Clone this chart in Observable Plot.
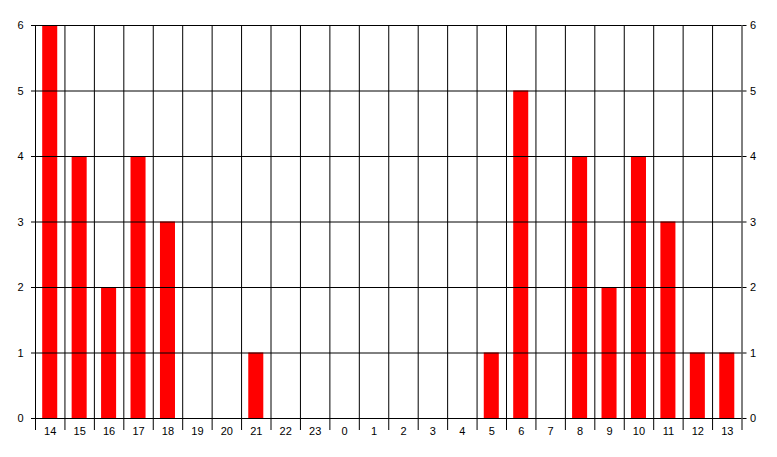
<!DOCTYPE html>
<html>
<head>
<meta charset="utf-8">
<script src="https://cdn.jsdelivr.net/npm/d3@7"></script>
<script src="https://cdn.jsdelivr.net/npm/@observablehq/plot@0.6"></script>
<style>
  html, body { margin: 0; padding: 0; background: #fff; }
  svg { font-family: "Liberation Sans", Arial, sans-serif; }
</style>
</head>
<body>
<div id="chart"></div>
<script>
const hours = ["14","15","16","17","18","19","20","21","22","23","0","1","2","3","4","5","6","7","8","9","10","11","12","13"];
const counts = [6,4,2,4,3,0,0,1,0,0,0,0,0,0,0,1,5,0,4,2,4,3,1,1];
const yTicks = [0,1,2,3,4,5,6];

const data = hours.map((h, i) => ({hour: h, index: i, count: counts[i]}));
const boundaries = d3.range(hours.length + 1);
const centers = d3.range(hours.length).map(i => i + 0.5);

const chart = Plot.plot({
  width: 777,
  height: 457,
  marginLeft: 35,
  marginRight: 35.5,
  marginTop: 25,
  marginBottom: 39,
  style: {fontSize: "11px", fontFamily: "'Liberation Sans', Arial, sans-serif", color: "black", background: "white"},
  x: {type: "linear", domain: [0, hours.length]},
  y: {domain: [0, 6]},
  marks: [
    Plot.rectY(data.filter(d => d.count > 0), {
      x1: d => d.index, x2: d => d.index + 1, y: "count",
      insetLeft: 7.2, insetRight: 7.2, fill: "#ff0000"
    }),
    Plot.ruleY(yTicks, {stroke: "black", strokeWidth: 1}),
    Plot.ruleX(boundaries, {stroke: "black", strokeWidth: 1}),
    Plot.axisX(boundaries, {tickSize: 12, tickFormat: () => "", stroke: "black", strokeOpacity: 1}),
    Plot.axisX(centers, {tickSize: 0, tickPadding: 9, tickFormat: v => hours[Math.floor(v)], fill: "black"}),
    Plot.axisY(yTicks, {anchor: "left", tickSize: 4, tickPadding: 8, tickFormat: "d", label: null, strokeOpacity: 1, fill: "black"}),
    Plot.axisY(yTicks, {anchor: "right", tickSize: 4, tickPadding: 4, tickFormat: "d", label: null, strokeOpacity: 1, fill: "black"})
  ]
});
document.getElementById("chart").appendChild(chart);
</script>
</body>
</html>
